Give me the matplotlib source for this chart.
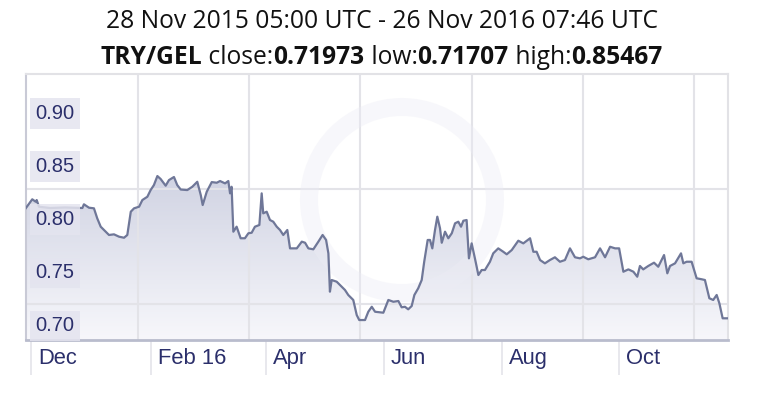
import datetime as dt
import numpy as np
import matplotlib
matplotlib.use("Agg")
import matplotlib.pyplot as plt
import matplotlib.dates as mdates
import matplotlib.transforms as mtransforms
from matplotlib.patches import Ellipse
from matplotlib.ticker import FixedLocator, FixedFormatter

# ---------------- data ----------------
start_time = dt.datetime(2015, 11, 28, 5, 0)
end_time = dt.datetime(2016, 11, 26, 7, 46)

# days since start_time
day_offsets = [
    0.0, 3.4, 5.2, 5.7, 6.9, 12.6, 20.4, 29.4, 30.2, 32.8, 35.4, 37.1, 38.9,
    41.5, 43.2, 45.8, 48.4, 51.0, 52.7, 54.5, 56.2, 58.8, 60.5, 63.1, 64.8,
    66.5, 68.3, 70.0, 71.7, 72.6, 74.3, 76.9, 78.6, 80.4, 83.8, 86.4, 89.0,
    90.8, 91.8, 93.9, 96.5, 99.1, 100.8, 103.4, 105.1, 106.0, 106.8, 107.7,
    109.4, 111.5, 113.7, 115.5, 117.2, 118.9, 121.2, 122.4, 123.2, 125.0,
    126.7, 128.4, 130.2, 131.9, 133.6, 135.7, 137.1, 140.6, 143.2, 144.9,
    146.6, 149.2, 151.8, 154.0, 155.8, 157.0, 157.8, 158.7, 161.3, 163.0,
    165.6, 167.3, 169.9, 171.7, 173.0, 176.0, 177.7, 179.5, 181.2, 185.5,
    188.1, 190.7, 193.3, 195.0, 196.7, 198.4, 200.2, 201.6, 203.6, 205.4,
    206.7, 208.5, 209.7, 210.9, 212.3, 213.5, 214.9, 215.8, 217.5, 219.2,
    221.0, 222.7, 224.4, 225.8, 227.0, 228.7, 229.9, 231.3, 233.0, 234.8,
    236.5, 238.2, 240.8, 242.5, 245.1, 247.7, 249.5, 252.1, 255.5, 258.1,
    261.6, 263.3, 265.0, 266.8, 269.3, 271.9, 274.5, 277.1, 279.7, 282.3,
    284.9, 287.5, 289.2, 291.8, 295.3, 297.9, 300.5, 303.1, 305.7, 307.8,
    310.0, 312.6, 315.2, 317.2, 318.6, 320.3, 322.9, 325.9, 328.1, 331.1,
    332.8, 334.2, 336.8, 339.9, 341.1, 342.8, 345.4, 348.0, 350.6, 352.3,
    354.6, 356.6, 358.4, 359.8, 361.5, 364.1,
]
rates = [
    0.8233, 0.8318, 0.8295, 0.8311, 0.8248, 0.8236, 0.8241, 0.8236, 0.8271,
    0.8239, 0.8233, 0.8139, 0.8060, 0.8013, 0.7982, 0.7988, 0.7966, 0.7956,
    0.7982, 0.8201, 0.8233, 0.8248, 0.8311, 0.8342, 0.8405, 0.8452, 0.8537,
    0.8509, 0.8468, 0.8446, 0.8499, 0.8528, 0.8452, 0.8410, 0.8405, 0.8436,
    0.8483, 0.8358, 0.8264, 0.8389, 0.8480, 0.8474, 0.8490, 0.8468, 0.8490,
    0.8374, 0.8436, 0.8013, 0.8060, 0.7951, 0.7951, 0.7998, 0.8003, 0.8060,
    0.8076, 0.8374, 0.8186, 0.8201, 0.8123, 0.8107, 0.8060, 0.8029, 0.7982,
    0.8029, 0.7856, 0.7856, 0.7919, 0.7909, 0.7856, 0.7847, 0.7919, 0.7982,
    0.7935, 0.7809, 0.7448, 0.7558, 0.7542, 0.7511, 0.7464, 0.7417, 0.7370,
    0.7228, 0.7181, 0.7181, 0.7259, 0.7306, 0.7259, 0.7250, 0.7370, 0.7353,
    0.7360, 0.7301, 0.7306, 0.7282, 0.7313, 0.7417, 0.7480, 0.7558, 0.7730,
    0.7935, 0.7935, 0.7856, 0.8029, 0.8154, 0.8045, 0.7909, 0.8013, 0.7951,
    0.7998, 0.8092, 0.8107, 0.8060, 0.8116, 0.8123, 0.7762, 0.7903, 0.7762,
    0.7605, 0.7652, 0.7652, 0.7730, 0.7809, 0.7856, 0.7824, 0.7800, 0.7840,
    0.7928, 0.7903, 0.7951, 0.7824, 0.7824, 0.7746, 0.7715, 0.7746, 0.7772,
    0.7730, 0.7746, 0.7856, 0.7772, 0.7762, 0.7777, 0.7753, 0.7772, 0.7856,
    0.7772, 0.7871, 0.7856, 0.7856, 0.7636, 0.7658, 0.7636, 0.7589, 0.7690,
    0.7658, 0.7690, 0.7721, 0.7683, 0.7793, 0.7621, 0.7690, 0.7715, 0.7809,
    0.7715, 0.7730, 0.7730, 0.7574, 0.7565, 0.7558, 0.7386, 0.7370, 0.7417,
    0.7338, 0.71973, 0.71973,
]

y_tick_values = [0.70, 0.75, 0.80, 0.85, 0.90]
y_tick_labels = ["0.70", "0.75", "0.80", "0.85", "0.90"]

month_dates = [dt.datetime(2015, 12, 1), dt.datetime(2016, 2, 1), dt.datetime(2016, 4, 1),
               dt.datetime(2016, 6, 1), dt.datetime(2016, 8, 1), dt.datetime(2016, 10, 1)]
month_labels = ["Dec", "Feb 16", "Apr", "Jun", "Aug", "Oct"]

title_line1 = "28 Nov 2015 05:00 UTC - 26 Nov 2016 07:46 UTC"
title_pieces = [("TRY/GEL", True), (" close:", False), ("0.71973", True),
                (" low:", False), ("0.71707", True), (" high:", False), ("0.85467", True)]

# ---------------- style ----------------
NAVY = "#2b2f6b"
LINE = "#6f7798"
GRID = "#e3e3e8"
TITLE_FONT = "Open Sans"

W, H, DPI = 763, 399, 100
fig = plt.figure(figsize=(W / DPI, H / DPI), dpi=DPI)
fig.patch.set_facecolor("white")

ax_left, ax_right = 25.7 / W, 727.7 / W
ax_top, ax_bottom = 1 - 74 / H, 1 - 340 / H
ax = fig.add_axes([ax_left, ax_bottom, ax_right - ax_left, ax_top - ax_bottom])

x0 = mdates.date2num(start_time)
x1 = mdates.date2num(end_time)
xs = x0 + np.array(day_offsets)
ys = np.array(rates)

ymin, ymax = 0.6993, 0.9498

# gradient fill under the line
grad = np.linspace(0, 1, 256).reshape(-1, 1)
top_c = np.array([207, 210, 226]) / 255.0
bot_c = np.array([247, 247, 251]) / 255.0
img = top_c[None, None, :] * grad[:, :, None] + bot_c[None, None, :] * (1 - grad[:, :, None])
poly = ax.fill_between(xs, ys, ymin, color="none", lw=0)
im = ax.imshow(img, extent=[x0, x1, ymin, 0.86], origin="lower", aspect="auto", zorder=1)
im.set_clip_path(poly.get_paths()[0], transform=ax.transData)
ax.set_xlim(x0, x1)
ax.set_ylim(ymin, ymax)

# faint watermark ring
wm = Ellipse((402 / W, 1 - 200 / H), 186 / W, 186 / H, transform=fig.transFigure,
             fill=False, edgecolor=(0.93, 0.93, 0.96), lw=13, zorder=2, alpha=0.4)
ax.add_artist(wm)
wm.set_clip_box(ax.bbox)

ax.plot(xs, ys, color=LINE, lw=1.6, zorder=3, solid_joinstyle="round")

# grid lines (minor ticks)
grid_days = [58.1, 115.6, 173.4, 231.3, 289.0, 346.8]
grid_vals = [0.7329, 0.8415]
ax.xaxis.set_minor_locator(FixedLocator([x0 + d for d in grid_days]))
ax.yaxis.set_minor_locator(FixedLocator(grid_vals))
ax.grid(which="minor", color=GRID, lw=1.5, zorder=0)
ax.tick_params(which="minor", length=0)

# month ticks as separators below axis
month_nums = [mdates.date2num(d) for d in month_dates]
ax.xaxis.set_major_locator(FixedLocator(month_nums))
ax.xaxis.set_major_formatter(FixedFormatter(month_labels))
ax.tick_params(axis="x", which="major", direction="out", length=25.5, width=1.2,
               color="#e4e4ea", pad=-19.5, labelsize=15.8, labelcolor=NAVY)
offset = mtransforms.ScaledTranslation(7 / DPI, 0, fig.dpi_scale_trans)
for lab in ax.get_xticklabels():
    lab.set_horizontalalignment("left")
    lab.set_fontfamily("Liberation Sans")
    lab.set_transform(lab.get_transform() + offset)

ax.set_yticks([])

# y labels inside plot
ytrans = mtransforms.offset_copy(ax.get_yaxis_transform(), fig=fig, x=0, y=13.5, units="dots")
for v, s in zip(y_tick_values, y_tick_labels):
    ax.text(0.014, v, s, transform=ytrans, ha="left", va="center", fontsize=14.5,
            family="Liberation Sans", color=NAVY, zorder=5,
            bbox=dict(boxstyle="square,pad=0.28", fc="#e4e4ef", ec="none", alpha=0.85))

for side in ["top", "right"]:
    ax.spines[side].set_color("#e2e2e6")
    ax.spines[side].set_linewidth(1.5)
ax.spines["left"].set_color("#c9cad6")
ax.spines["left"].set_linewidth(1.5)
ax.spines["bottom"].set_color("#b9bccd")
ax.spines["bottom"].set_linewidth(2)

# titles (fit to the reference text widths)
fig.canvas.draw()
renderer = fig.canvas.get_renderer()

t1 = fig.text(0.5, 1 - 28 / H, title_line1, ha="center", va="baseline", fontsize=15,
              family=TITLE_FONT, color="#111111")
w1 = t1.get_window_extent(renderer).width
t1.set_fontsize(15 * 551 / w1)

texts = []
for s, bold in title_pieces:
    t = fig.text(0, 1 - 64 / H, s, ha="left", va="baseline", fontsize=15, family=TITLE_FONT,
                 fontweight="bold" if bold else "normal", color="#111111")
    texts.append(t)
total = sum(t.get_window_extent(renderer).width for t in texts)
fs2 = 15 * 562 / total
for t in texts:
    t.set_fontsize(fs2)
widths = [t.get_window_extent(renderer).width for t in texts]
xpos = (W - sum(widths)) / 2
for t, w in zip(texts, widths):
    t.set_x(xpos / W)
    xpos += w

fig.savefig("out.png", dpi=DPI, facecolor="white")
